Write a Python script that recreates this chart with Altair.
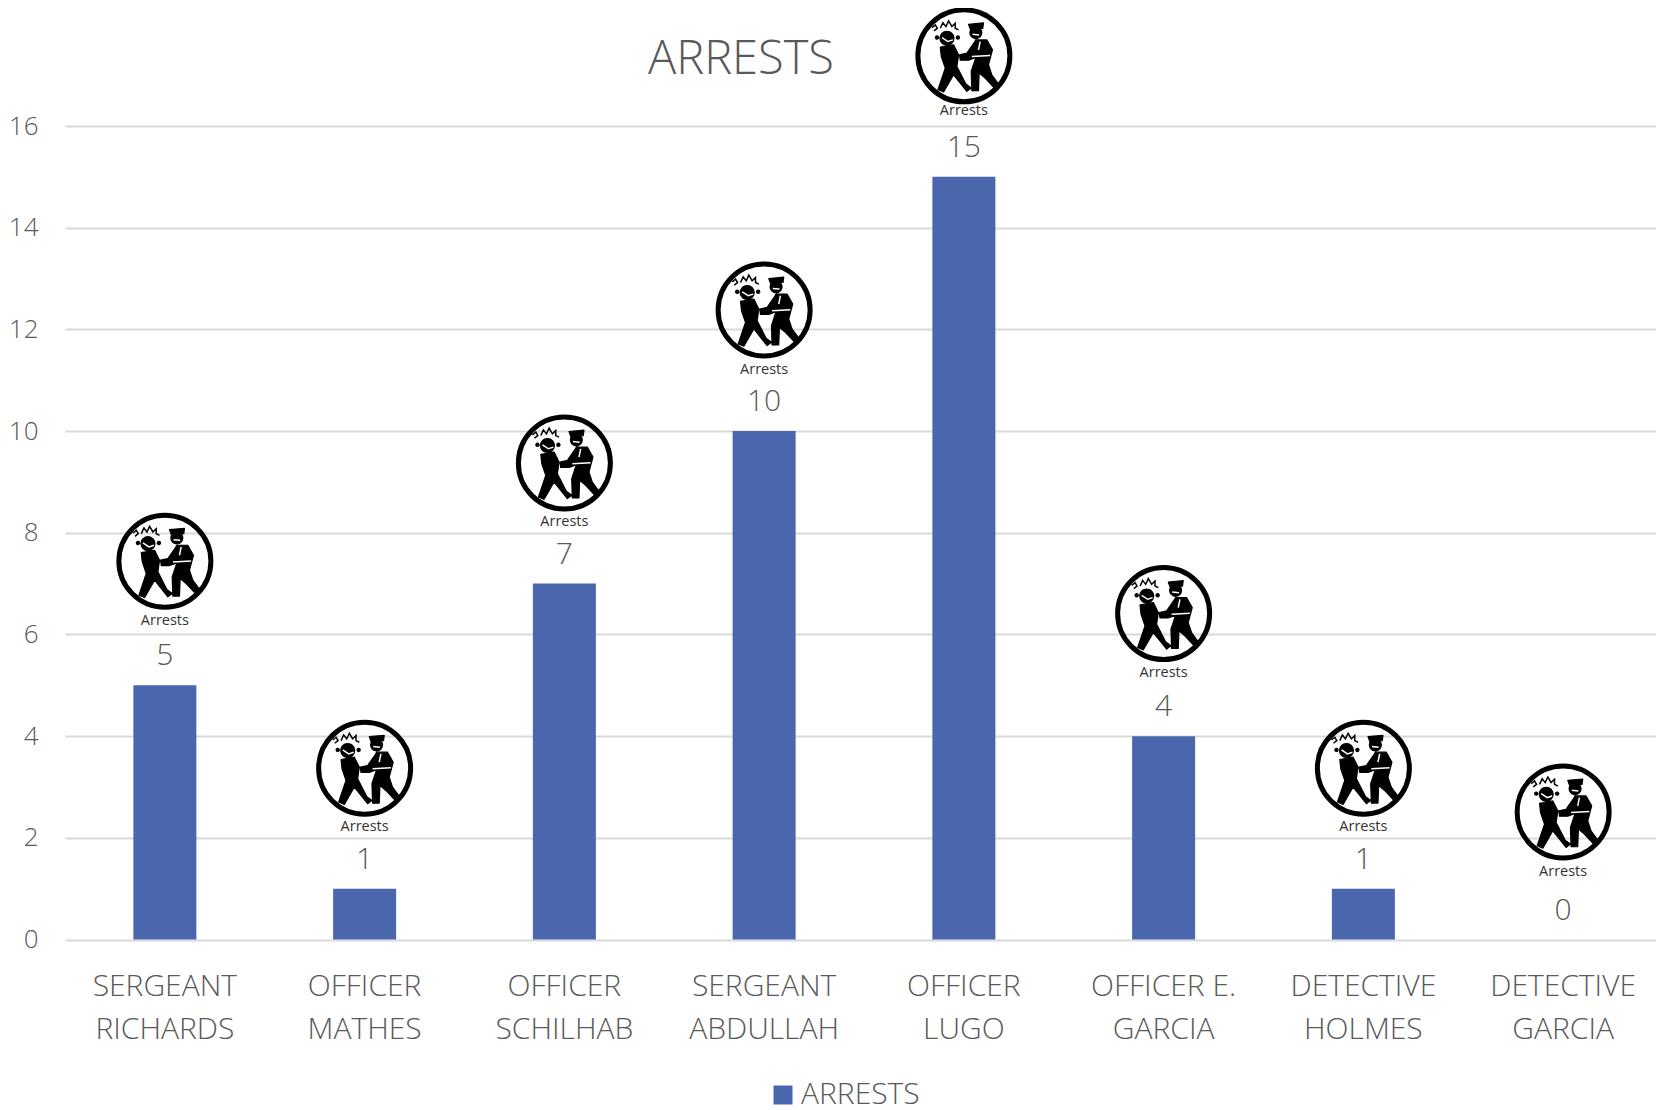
import math
import altair as alt
import pandas as pd

categories = ["SERGEANT|RICHARDS", "OFFICER|MATHES", "OFFICER|SCHILHAB", "SERGEANT|ABDULLAH",
              "OFFICER|LUGO", "OFFICER E.|GARCIA", "DETECTIVE|HOLMES", "DETECTIVE|GARCIA"]
arrests = [5, 1, 7, 10, 15, 4, 1, 0]
# height of each badge's centre and of its caption, read in axis units
badge_level = [7.44, 3.37, 9.37, 12.38, 17.38, 6.41, 3.37, 2.51]
caption_level = [6.27, 2.21, 8.21, 11.21, 16.29, 5.24, 2.21, 1.33]
series = ["ARRESTS"] * 8
badge_caption = ["Arrests"] * 8
y_ticks = [0, 2, 4, 6, 8, 10, 12, 14, 16]

FONT = "Open Sans"
GREY = "#595959"
BLUE = "#4a66ac"
GRID = "#d9d9d9"

df = pd.DataFrame({"name": categories, "value": arrests, "level": badge_level,
                   "cap": caption_level, "series": series, "caption": badge_caption})


# ---- badge glyph, drawn in a local grid whose centre is (226,213) and radius 146
def glyph(*polys, closed=True):
    out = []
    for poly in polys:
        pts = [f"{(x-226)/146:.3f},{(y-213)/146:.3f}" for x, y in poly]
        out.append("M" + " L".join(pts) + (" Z" if closed else ""))
    return " ".join(out)


def disc(cx, cy, r, n=16):
    return [(cx + r * math.cos(2 * math.pi * i / n), cy + r * math.sin(2 * math.pi * i / n)) for i in range(n)]


solid = glyph(
    disc(175, 160, 21),
    [(155, 187), (195, 180), (210, 210), (205, 245), (232, 298), (248, 310), (235, 320), (195, 270),
     (165, 322), (148, 315), (170, 250), (158, 215)],
    disc(262, 143, 18),
    [(240, 118), (285, 114), (283, 130), (245, 132)],
    [(262, 165), (295, 165), (312, 195), (300, 240), (310, 270), (332, 300), (320, 312), (290, 280),
     (272, 265), (270, 318), (250, 318), (248, 260), (262, 218), (240, 226), (215, 226), (213, 210),
     (235, 205), (258, 172)],
    disc(145, 158, 5, 8), disc(208, 158, 5, 8),
)
thin = glyph(
    [(155, 130), (163, 113), (172, 125), (180, 108), (190, 125), (200, 115), (200, 130), (210, 135)],
    [(130, 128), (140, 120), (146, 130), (136, 138)],
    closed=False,
)
white = glyph(
    [(160, 158), (178, 170), (193, 165)],
    [(275, 170), (270, 195)],
    [(250, 215), (305, 212)],
    [(252, 148), (272, 150)],
    closed=False,
)

SIZE = 97 ** 2

base = alt.Chart(df)
x_enc = alt.X("name:N", sort=categories, title=None,
              scale=alt.Scale(paddingInner=0.686, paddingOuter=0.343, round=False, range=[0, 1598]),
              axis=alt.Axis(labelExpr="split(datum.label,'|')", labelAngle=0, labelFont=FONT,
                            labelFontSize=30, labelFontWeight=300, labelColor=GREY, labelLineHeight=43,
                            labelPadding=32, labelBaseline="top", labelLimit=400, ticks=False,
                            domain=False, grid=False))
y_scale = alt.Scale(domain=[0, 16], nice=False)


def icon_layer(shape, size, **kw):
    return base.mark_point(shape=shape, size=size, opacity=1, clip=False, **kw).encode(
        x=x_enc, y=alt.Y("level:Q", scale=y_scale))


bars = base.mark_bar(size=63).encode(
    x=x_enc,
    y=alt.Y("value:Q", scale=y_scale, title=None,
            axis=alt.Axis(values=y_ticks, labelFont=FONT, labelFontSize=26, labelFontWeight=300,
                          labelColor=GREY, labelPadding=27, ticks=False, domain=False,
                          grid=True, gridColor=GRID, gridWidth=2)),
    color=alt.Color("series:N", title=None,
                    scale=alt.Scale(range=[BLUE]),
                    legend=alt.Legend(orient="none", legendX=703, legendY=954, symbolType="square",
                                      symbolSize=361, symbolStrokeWidth=0, labelFont=FONT,
                                      labelFontSize=30, labelFontWeight=300, labelColor=GREY,
                                      labelOffset=3, padding=0, labelLimit=300)),
)

value_labels = base.mark_text(font=FONT, fontSize=30, fontWeight=300, color=GREY, dy=-29).encode(
    x=x_enc, y=alt.Y("value:Q", scale=y_scale), text="value:Q")

captions = base.mark_text(font=FONT, fontSize=14.5, color="#333333").encode(
    x=x_enc, y=alt.Y("cap:Q", scale=y_scale), text="caption:N")

ring = icon_layer("circle", 92 ** 2, filled=False, stroke="black", strokeWidth=5)
figures = icon_layer(solid, SIZE, filled=True, fill="black", stroke="black", strokeWidth=1.2, strokeJoin="round")
sparks = icon_layer(thin, SIZE, filled=False, stroke="black", strokeWidth=1.5)
details = icon_layer(white, SIZE, filled=False, stroke="white", strokeWidth=1.5)

chart = (
    alt.layer(bars, value_labels, captions, ring, figures, sparks, details)
    .properties(
        width=1591, height=813.5,
        padding={"left": 57, "top": 118, "right": 0, "bottom": 172},
        autosize=alt.AutoSizeParams(type="none"),
        background="white",
        title=alt.TitleParams("ARRESTS", font=FONT, fontSize=47, fontWeight=300, color=GREY,
                              anchor="middle", dx=-119.5, dy=84, offset=0),
    )
    .configure_view(stroke=None)
)

chart.save("out.html", embed_options={"renderer": "svg", "actions": False})
